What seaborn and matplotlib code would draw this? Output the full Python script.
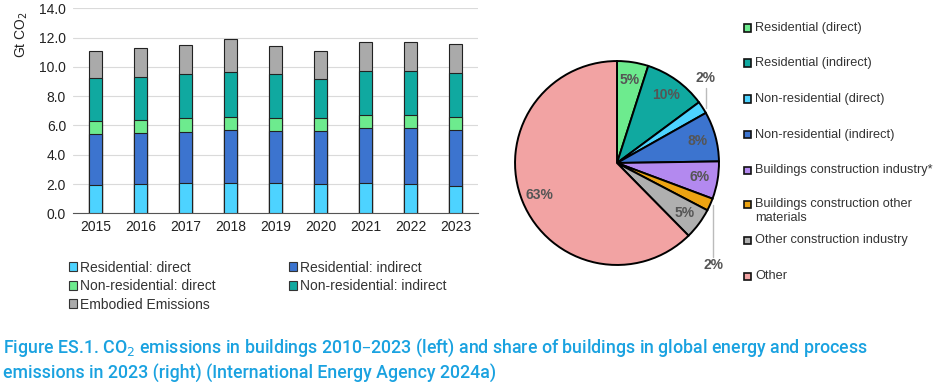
import numpy as np
import pandas as pd
import matplotlib
matplotlib.use("Agg")
import matplotlib.pyplot as plt
from matplotlib.patches import Rectangle, Patch
import seaborn as sns

# bar chart data (Gt CO2)
years = ["2015", "2016", "2017", "2018", "2019", "2020", "2021", "2022", "2023"]
res_direct = [1.93, 1.98, 2.05, 2.07, 2.05, 1.98, 2.05, 1.98, 1.89]
res_indirect = [3.49, 3.48, 3.50, 3.60, 3.55, 3.62, 3.78, 3.83, 3.80]
nonres_direct = [0.91, 0.91, 0.94, 0.91, 0.89, 0.89, 0.86, 0.88, 0.87]
nonres_indirect = [2.93, 2.94, 3.00, 3.05, 3.00, 2.68, 3.01, 3.01, 3.00]
embodied = [1.84, 1.96, 2.03, 2.25, 1.91, 1.93, 2.02, 2.02, 2.00]
bar_series = ["Residential: direct", "Residential: indirect", "Non-residential: direct",
              "Non-residential: indirect", "Embodied Emissions"]

# pie chart data (share %, clockwise from top)
pie_labels = ["Residential (direct)", "Residential (indirect)", "Non-residential (direct)",
              "Non-residential (indirect)", "Buildings construction industry*",
              "Buildings construction other\nmaterials", "Other construction industry", "Other"]
pie_values = [5, 10, 2, 8, 6, 2, 5, 63]

caption = ("Figure ES.1. CO$_2$ emissions in buildings 2010\u20132023 (left) and share of buildings in global energy and process\n"
           "emissions in 2023 (right) (International Energy Agency 2024a)")

bar_colors = ["#4DD3FF", "#3C74CF", "#6DEB8E", "#10A9A0", "#AAAAAA"]
pie_colors = ["#6DEB8E", "#10A9A0", "#4DD3FF", "#3C74CF", "#B389EF", "#ECA312", "#AFAFAF", "#F2A3A3"]

sns.set_style("white")
plt.rcParams["font.family"] = ["Liberation Sans", "DejaVu Sans"]

fig = plt.figure(figsize=(9.36, 3.82), dpi=100)

# ---- stacked bars ----
ax = fig.add_axes([73 / 936, 1 - 213.3 / 382, 405 / 936, 205 / 382])
df = pd.DataFrame({"year": years, bar_series[0]: res_direct, bar_series[1]: res_indirect,
                   bar_series[2]: nonres_direct, bar_series[3]: nonres_indirect,
                   bar_series[4]: embodied})
cum = df[bar_series].cumsum(axis=1)
for name, color in reversed(list(zip(bar_series, bar_colors))):
    sns.barplot(data=cum.assign(year=df["year"]), x="year", y=name, color=color,
                width=0.3, edgecolor="#222222", linewidth=0.8, saturation=1, ax=ax, zorder=3)

ax.set_ylim(0, 14)
ax.set_xlim(-0.5, 8.5)
ax.set_yticks(np.arange(0, 14.1, 2))
ax.set_yticklabels([f"{v:.1f}" for v in np.arange(0, 14.1, 2)])
ax.grid(axis="y", color="#DADADA", linewidth=0.8, zorder=0)
ax.set_xlabel("")
ax.set_ylabel("")
for s in ["top", "right", "left"]:
    ax.spines[s].set_visible(False)
ax.spines["bottom"].set_color("#555555")
ax.tick_params(axis="both", length=0, labelsize=10, colors="#222222", pad=5)
fig.text(22 / 936, 1 - 35 / 382, "Gt CO$_2$", rotation=90, ha="center", va="center",
         fontsize=10, color="#222222")

order = [0, 2, 4, 1, 3]
handles = [Patch(facecolor=bar_colors[i], edgecolor="#333333", linewidth=0.8) for i in order]
fig.legend(handles, [bar_series[i] for i in order], ncol=2, frameon=False,
           loc="upper left", bbox_to_anchor=(56 / 936, 1 - 248 / 382),
           fontsize=10, handlelength=0.6, handleheight=0.6, handletextpad=0.2,
           labelspacing=0.33, columnspacing=5.3, labelcolor="#333333")

# ---- pie ----
pax = fig.add_axes([(617 - 104) / 936, (382 - 163 - 104) / 382, 208 / 936, 208 / 382])
wedges, _ = pax.pie(pie_values, colors=pie_colors, startangle=90, counterclock=False,
                    wedgeprops=dict(edgecolor="black", linewidth=1.4))
pax.set_xlim(-1.02, 1.02)
pax.set_ylim(-1.02, 1.02)
for w, v in zip(wedges, pie_values):
    mid = np.deg2rad((w.theta1 + w.theta2) / 2)
    x, y = np.cos(mid), np.sin(mid)
    if v > 2:
        pax.text(0.82 * x, 0.82 * y, f"{v}%", ha="center", va="center",
                 fontsize=10, fontweight="bold", color="#555555")
    else:
        ty = 0.83 if y > 0 else -1.0
        ly = 0.74 if y > 0 else -0.92
        pax.plot([x + 0.03, x + 0.03], [y, ly], color="#BBBBBB", linewidth=1, clip_on=False)
        pax.text(x + 0.03, ty, f"{v}%", ha="center", va="center",
                 fontsize=10, fontweight="bold", color="#555555", clip_on=False)

# right-hand legend
row_y = [28, 63, 99, 135, 170, 205, 240, 276]
for lab, col, yy in zip(pie_labels, pie_colors, row_y):
    fig.patches.append(Rectangle((744 / 936, 1 - (yy + 3.5) / 382), 7 / 936, 7 / 382,
                                 transform=fig.transFigure, facecolor=col,
                                 edgecolor="#111111", linewidth=1.2))
    two_line = "\n" in lab
    fig.text(755 / 936, 1 - (yy - 7 if two_line else yy) / 382, lab, ha="left",
             va="top" if two_line else "center",
             fontsize=9.2, color="#333333", linespacing=1.2)

# caption
fig.text(3 / 936, 1 - 337 / 382, caption, ha="left", va="top", fontsize=12.8,
         color="#1AA2E0", family=["Roboto", "DejaVu Sans"], fontweight="medium",
         linespacing=1.3)

fig.savefig("out.png", dpi=100)
